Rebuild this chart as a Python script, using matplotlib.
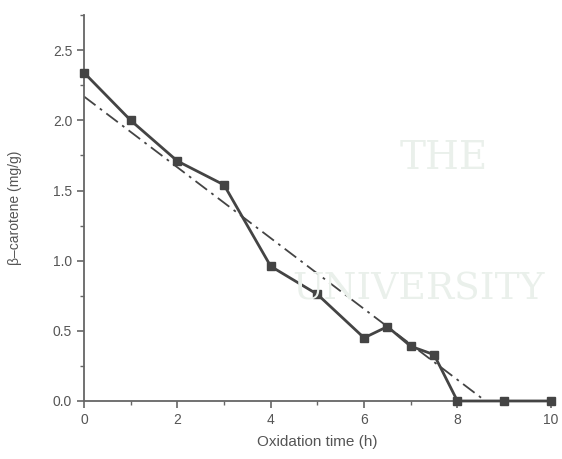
import matplotlib.pyplot as plt
from matplotlib.ticker import MultipleLocator

plt.rcParams['font.family'] = ['Liberation Sans', 'DejaVu Sans']

# 数据
time_h = [0, 1, 2, 3, 4, 5, 6, 6.5, 7, 7.5, 8, 9, 10]
carotene = [2.34, 2.00, 1.71, 1.54, 0.96, 0.76, 0.45, 0.53, 0.39, 0.33, 0.0, 0.0, 0.0]
# 回归线端点
fit_x = [0, 8.6]
fit_y = [2.17, 0.0]

fig = plt.figure(figsize=(5.62, 4.59), dpi=100)
ax = fig.add_axes([0.1495, 0.1264, 0.8305, 0.8406])

# 背景水印
fig.text(0.79, 0.655, 'THE', fontsize=28, family='DejaVu Serif', color='#eaf0eb', ha='center', va='center', zorder=0)
fig.text(0.745, 0.37, 'UNIVERSITY', fontsize=27, family='DejaVu Serif', color='#eaf0eb', ha='center', va='center', zorder=0)

gray = '#444444'
ax.plot(fit_x, fit_y, color=gray, lw=1.3, ls=(0, (8, 3, 1.5, 3)), zorder=2)
ax.plot(time_h, carotene, color=gray, lw=2, marker='s', ms=6, zorder=3, clip_on=False)

ax.set_xlim(0, 10)
ax.set_ylim(0, 2.75)
ax.xaxis.set_major_locator(MultipleLocator(2))
ax.xaxis.set_minor_locator(MultipleLocator(1))
ax.yaxis.set_minor_locator(MultipleLocator(0.25))
ax.set_yticks([0, 0.5, 1.0, 1.5, 2.0, 2.5])
ax.set_yticklabels(['0.0', '0.5', '1.0', '1.5', '2.0', '2.5'])

ax.patch.set_alpha(0)
for s in ['top', 'right']:
    ax.spines[s].set_visible(False)
for s in ['left', 'bottom']:
    ax.spines[s].set_color('#666666')
    ax.spines[s].set_linewidth(1.3)
ax.tick_params(which='major', direction='out', length=5, width=1.2, color='#666666', labelcolor='#555555', labelsize=10)
ax.tick_params(which='minor', direction='out', length=3, width=1.0, color='#666666')

ax.set_xlabel('Oxidation time (h)', fontsize=11, color='#555555', labelpad=6)
ax.set_ylabel('β\u2013carotene (mg/g)', fontsize=10, color='#555555', labelpad=22)

fig.savefig('out.png', dpi=100)
